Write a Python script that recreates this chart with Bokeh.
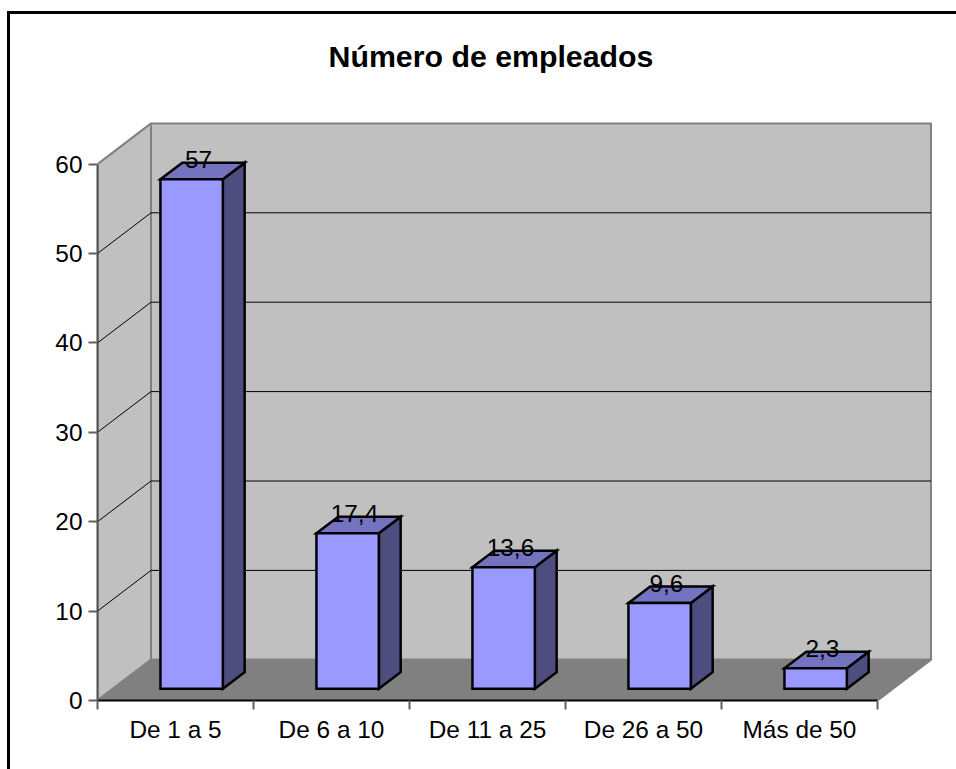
from bokeh.plotting import figure
from bokeh.embed import file_html
from bokeh.resources import INLINE
from bokeh.models import FixedTicker, Range1d, Title, InlineStyleSheet
from bokeh.core.properties import value as V

categories = ["De 1 a 5", "De 6 a 10", "De 11 a 25", "De 26 a 50", "Más de 50"]
values = [57, 17.4, 13.6, 9.6, 2.3]
labels = ["57", "17,4", "13,6", "9,6", "2,3"]
y_ticks = [0, 10, 20, 30, 40, 50, 60]
title_text = "Número de empleados"

FONT = "Liberation Sans"
FS = "24.4px"
PX_X, PX_Y = 156.0, 8.94          # pixels per category / per value unit
DX, DY = 53.5 / PX_X, 40.7 / PX_Y  # 3D depth expressed in data units
BAR_L, BAR_W = 0.305, 0.40
D0, D1 = 0.287, 0.695
YMAX = 60
N = len(categories)

def pr(x, y, d=0.0):
    return x + d * DX, y + d * DY

W, H = 956, 769
LEFT, BOTTOM, TOP = 97, 69, 100
p = figure(width=W, height=H, output_backend="svg", toolbar_location=None,
           x_range=Range1d(0, (W - LEFT) / PX_X), y_range=Range1d(0, (H - BOTTOM - TOP) / PX_Y),
           min_border_left=LEFT, min_border_right=0, min_border_bottom=BOTTOM, min_border_top=TOP,
           tools="")
p.outline_line_color = None
p.grid.visible = False
p.background_fill_color = "white"
p.border_fill_color = "white"

def poly(pts):
    return [a for a, _ in pts], [b for _, b in pts]

# walls and floor
back = [pr(0, 0, 1), pr(N, 0, 1), pr(N, YMAX, 1), pr(0, YMAX, 1)]
side = [pr(0, 0), pr(0, 0, 1), pr(0, YMAX, 1), pr(0, YMAX)]
floor = [pr(0, 0), pr(N, 0), pr(N, 0, 1), pr(0, 0, 1)]
for pts, col in ((back, "#C0C0C0"), (side, "#C0C0C0"), (floor, "#808080")):
    xs, ys = poly(pts)
    p.patch(xs, ys, fill_color=col, line_color="#808080", line_width=2)

# gridlines
for t in y_ticks[1:-1]:
    a, b, c = pr(0, t), pr(0, t, 1), pr(N, t, 1)
    p.line([a[0], b[0], c[0]], [a[1], b[1], c[1]], line_color="black", line_width=1)

# bars
for i, v in enumerate(values):
    l, r = i + BAR_L, i + BAR_L + BAR_W
    front = [pr(l, 0, D0), pr(r, 0, D0), pr(r, v, D0), pr(l, v, D0)]
    right = [pr(r, 0, D0), pr(r, 0, D1), pr(r, v, D1), pr(r, v, D0)]
    top = [pr(l, v, D0), pr(r, v, D0), pr(r, v, D1), pr(l, v, D1)]
    for pts, col in ((right, "#4D4D80"), (top, "#7373BF"), (front, "#9999FF")):
        xs, ys = poly(pts)
        p.patch(xs, ys, fill_color=col, line_color="black", line_width=2.5, line_join="miter")

# data labels
lx, ly = [], []
for i, v in enumerate(values):
    a, b = pr(i + BAR_L + BAR_W / 2, v, D1)
    lx.append(a)
    ly.append(b)
p.text(lx, ly, text=labels, text_font=V(FONT), text_font_size=V(FS), text_color="black",
       text_align="center", text_baseline="middle", x_offset=-15, y_offset=-3)

# axes
xa = p.xaxis[0]
xa.ticker = FixedTicker(ticks=[i + 0.5 for i in range(N)], minor_ticks=list(range(N + 1)))
xa.major_label_overrides = {i + 0.5: c for i, c in enumerate(categories)}
xa.bounds = (0, N)
xa.major_tick_line_color = None
xa.major_tick_out = 0
xa.major_tick_in = 0
xa.minor_tick_out = 9
xa.minor_tick_in = 0
xa.minor_tick_line_color = "#606060"
xa.minor_tick_line_width = 2
xa.axis_line_color = "black"
xa.axis_line_width = 2
xa.major_label_standoff = 6
xa.major_label_text_font = FONT
xa.major_label_text_font_size = FS
xa.major_label_text_color = "black"

ya = p.yaxis[0]
ya.ticker = FixedTicker(ticks=y_ticks)
ya.bounds = (0, YMAX)
ya.minor_tick_line_color = None
ya.major_tick_out = 9
ya.major_tick_in = 0
ya.major_tick_line_color = "#606060"
ya.major_tick_line_width = 2
ya.axis_line_color = "#505050"
ya.axis_line_width = 2
ya.major_label_standoff = 6
ya.major_label_text_font = FONT
ya.major_label_text_font_size = FS
ya.major_label_text_color = "black"

# chart area border: only its left and top edges fall within the page
p.stylesheets = [InlineStyleSheet(css="""
:host::before {content:''; position:absolute; left:7px; top:11px; width:3px; height:758px;
               background:#000; z-index:10; pointer-events:none;}
:host::after  {content:''; position:absolute; left:7px; top:11px; width:949px; height:3px;
               background:#000; z-index:10; pointer-events:none;}
""")]

p.add_layout(Title(text=title_text, align="left", offset=231, standoff=55,
                   text_font=FONT, text_font_size="30.3px", text_font_style="bold",
                   text_color="black"), "above")

open("out.html", "w").write(file_html(p, INLINE))
